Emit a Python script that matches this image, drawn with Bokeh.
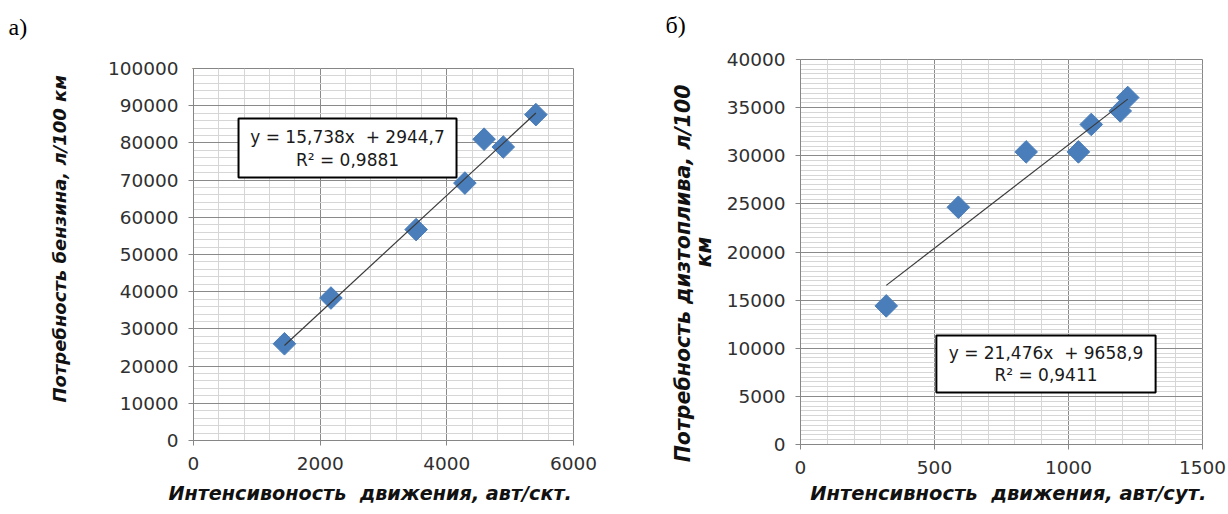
import numpy as np
from bokeh.plotting import figure
from bokeh.models import (Range1d, SingleIntervalTicker, BasicTickFormatter,
                          BoxAnnotation, Label, Title)
from bokeh.layouts import row
from bokeh.embed import file_html
from bokeh.resources import INLINE

NB = "\u00a0"

# ---------------- data: chart a) ----------------
a_x = [1436, 2170, 3515, 4285, 4588, 4891, 5406]
a_y = [26000, 38300, 56700, 69200, 81000, 78900, 87600]
a_slope, a_intercept = 15.738, 2944.7
a_eq = "y = 15,738x" + NB + " + 2944,7"
a_r2 = "R² = 0,9881"
a_xlabel = "Интенсивоность" + NB + " движения, авт/скт."
a_ylabel = "Потребность бензина, л/100 км"
a_tag = "а)"

# ---------------- data: chart б) ----------------
b_x = [320, 589, 842, 1037, 1085, 1193, 1221]
b_y = [14400, 24650, 30400, 30400, 33250, 34650, 36050]
b_slope, b_intercept = 21.476, 9658.9
b_eq = "y = 21,476x" + NB + " + 9658,9"
b_r2 = "R² = 0,9411"
b_xlabel = "Интенсивность" + NB + " движения, авт/сут."
b_ylabel = ["Потребность дизтоплива, л/100", "км"]
b_tag = "б)"

MAJOR = "#8a8a8a"
MINOR = "#d6d6d6"
AXIS = "#868686"
BLUE = "#4a7ebb"
SANS = "DejaVu Sans"

CAN_UNALIGN = "frame_align" in figure().properties()


def make(width, height, xr, yr, xint, yint, xminor, yminor,
         bl, br, bt, bb, xlabel, ylabel, ylab_size, ystandoff, xstandoff,
         tag, tag_offset, spacer_size):
    p = figure(width=width, height=height, x_range=Range1d(*xr), y_range=Range1d(*yr),
               output_backend="svg", toolbar_location=None,
               min_border_left=bl, min_border_right=br, min_border_top=bt,
               min_border_bottom=bb)
    if CAN_UNALIGN:
        p.frame_align = False
    # white spacer next to the frame (kept left of the frame), then the panel tag
    p.add_layout(Title(text=".", text_color="white", text_font=SANS, align="left",
                       offset=-12, text_font_size=spacer_size, standoff=0), "above")
    p.add_layout(Title(text=tag, align="left", offset=tag_offset, standoff=0,
                       text_font="Liberation Serif", text_font_size="24px",
                       text_font_style="normal", text_color="black"), "above")
    p.xaxis.ticker = SingleIntervalTicker(interval=xint, num_minor_ticks=xminor)
    p.yaxis.ticker = SingleIntervalTicker(interval=yint, num_minor_ticks=yminor)
    p.yaxis.formatter = BasicTickFormatter(use_scientific=False)
    p.xaxis.formatter = BasicTickFormatter(use_scientific=False)
    for g in (p.xgrid, p.ygrid):
        g.grid_line_color = MAJOR
        g.grid_line_width = 1
        g.minor_grid_line_color = MINOR
        g.minor_grid_line_width = 1
    p.outline_line_color = AXIS
    p.outline_line_width = 1
    p.background_fill_color = "white"
    p.border_fill_color = "white"
    for ax in (p.xaxis, p.yaxis):
        ax.axis_line_color = AXIS
        ax.major_tick_line_color = AXIS
        ax.major_tick_out = 5
        ax.major_tick_in = 0
        ax.minor_tick_line_color = None
        ax.major_label_text_font = SANS
        ax.major_label_text_font_size = "18.5px"
        ax.major_label_text_color = "#303030"
        ax.axis_label_text_font = SANS
        ax.axis_label_text_font_style = "bold italic"
        ax.axis_label_text_color = "#111111"
    p.xaxis.major_label_standoff = 11
    p.yaxis.major_label_standoff = 10
    p.xaxis.axis_label = xlabel
    p.xaxis.axis_label_standoff = xstandoff
    p.yaxis.axis_label = ylabel
    p.yaxis.axis_label_text_font_size = ylab_size
    p.yaxis.axis_label_standoff = ystandoff
    return p


def add_series(p, xs, ys, slope, intercept):
    p.scatter(xs, ys, marker="square", size=16, angle=np.pi / 4,
              fill_color=BLUE, line_color=BLUE)
    x0, x1 = min(xs), max(xs)
    p.line([x0, x1], [slope * x0 + intercept, slope * x1 + intercept],
           line_color="#3a3a3a", line_width=1.2)


def add_eq(p, left, right, top, bottom, eq, r2, ymid1, ymid2):
    p.add_layout(BoxAnnotation(left=left, right=right, top=top, bottom=bottom,
                               fill_color="white", fill_alpha=1.0,
                               line_color="black", line_alpha=1.0, line_width=2,
                               level="overlay"))
    cx = (left + right) / 2
    for txt, yy in ((eq, ymid1), (r2, ymid2)):
        p.add_layout(Label(x=cx, y=yy, text=txt, text_align="center",
                           text_baseline="middle", text_font=SANS,
                           text_font_size="17px", text_color="#1a1a1a",
                           level="overlay"))


# ---------------- figure a) ----------------
p1 = make(608, 512, (0, 6000), (0, 100000), 2000, 10000, 5, 5,
          193, 35, 68, 72, a_xlabel + NB * 4, NB * 5 + a_ylabel, "18px", 35, 9,
          a_tag, -185, "38px")
p1.xaxis.axis_label_text_font_size = "19.2px"
add_series(p1, a_x, a_y, a_slope, a_intercept)
add_eq(p1, 711, 4153, 86559, 70699, a_eq, a_r2, 81452, 75269)

# ---------------- figure б) ----------------
p2 = make(618, 512, (0, 1500), (0, 40000), 500, 5000, 5, 10,
          192, 24, 59, 68, NB * 2 + b_xlabel,
          b_ylabel[0] + NB * 6 + "\n" + b_ylabel[1], "20.5px", 8, 5,
          b_tag, -135, "26px" if CAN_UNALIGN else "38px")
p2.xaxis.axis_label_text_font_size = "19.5px"
p2.yaxis.axis_label_text_line_height = 0.85
add_series(p2, b_x, b_y, b_slope, b_intercept)
add_eq(p2, 507, 1325, 11325, 5403, b_eq, b_r2, 9558, 7169)

layout = row(p1, p2)
open("out.html", "w").write(file_html(layout, INLINE))
